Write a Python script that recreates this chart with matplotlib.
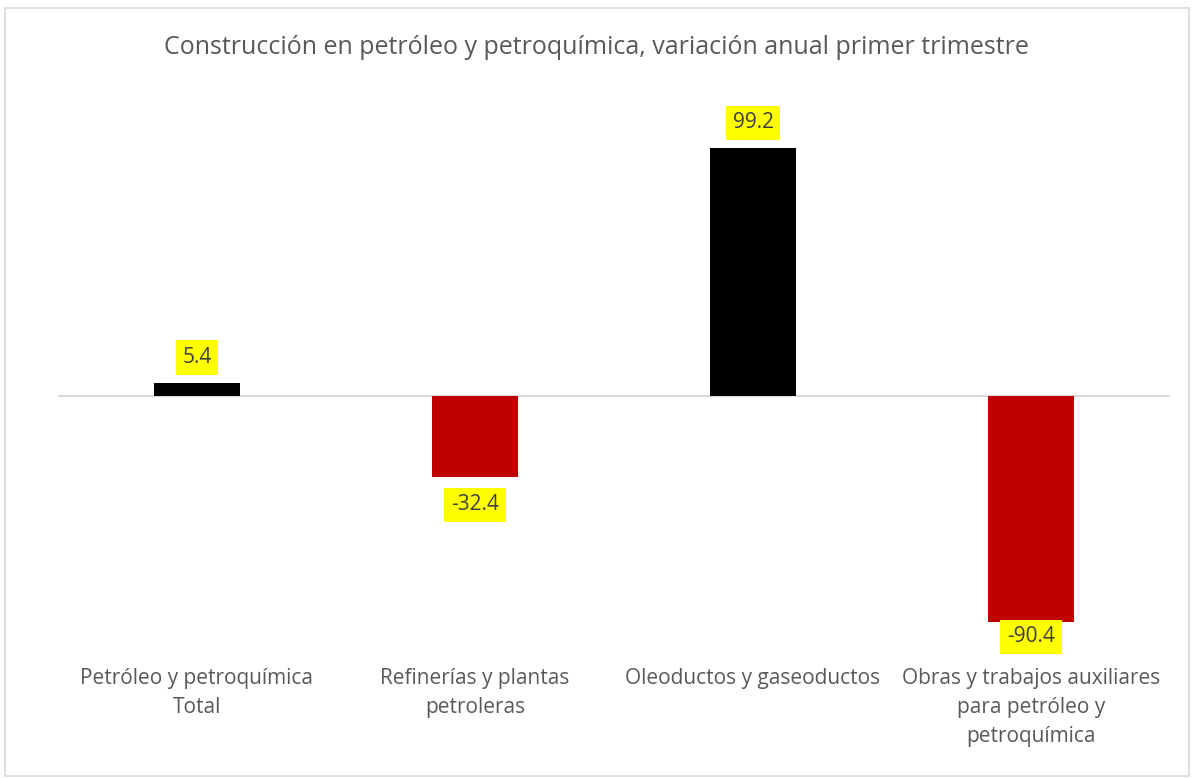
import matplotlib.pyplot as plt
from matplotlib.patches import Rectangle

categories = [
    "Petróleo y petroquímica\nTotal",
    "Refinerías y plantas\npetroleras",
    "Oleoductos y gaseoductos",
    "Obras y trabajos auxiliares\npara petróleo y\npetroquímica",
]
values = [5.4, -32.4, 99.2, -90.4]
title = "Construcción en petróleo y petroquímica, variación anual primer trimestre"

plt.rcParams["font.family"] = ["Open Sans", "DejaVu Sans"]
TEXT = "#595959"

fig = plt.figure(figsize=(11.92, 7.78), dpi=100)
ax = fig.add_axes([58 / 1192, 132 / 778, 1112 / 1192, 525 / 778])

colors = ["black" if v >= 0 else "#c00000" for v in values]
x = range(len(values))
ax.bar(x, values, width=0.31, color=colors, zorder=2)
ax.axhline(0, color="#d9d9d9", linewidth=1.5, zorder=1)

ax.set_xlim(-0.5, len(values) - 0.5)
ax.set_ylim(-100, 110)
ax.set_yticks([])
ax.set_xticks(list(x))
ax.set_xticklabels(categories, fontsize=15, color=TEXT, linespacing=1.5)
ax.tick_params(axis="x", length=0, pad=16)
for side in ax.spines.values():
    side.set_visible(False)

for i, v in enumerate(values):
    if v >= 0:
        y = v + 10
    else:
        y = max(v - 11.2, -96.4)
    ax.text(i, y, f"{v:.1f}", ha="center", va="center", fontsize=15, color="#404040",
            bbox=dict(boxstyle="square,pad=0.32", fc="yellow", ec="none"), zorder=3)

fig.text(0.5, 1 - 48 / 778, title, ha="center", va="center", fontsize=18, color=TEXT)
fig.patches.append(Rectangle((5 / 1192, 2 / 778), 1184 / 1192, 768 / 778,
                             transform=fig.transFigure, fill=False,
                             edgecolor="#d9d9d9", linewidth=1.2))

fig.savefig("out.png", dpi=100)
